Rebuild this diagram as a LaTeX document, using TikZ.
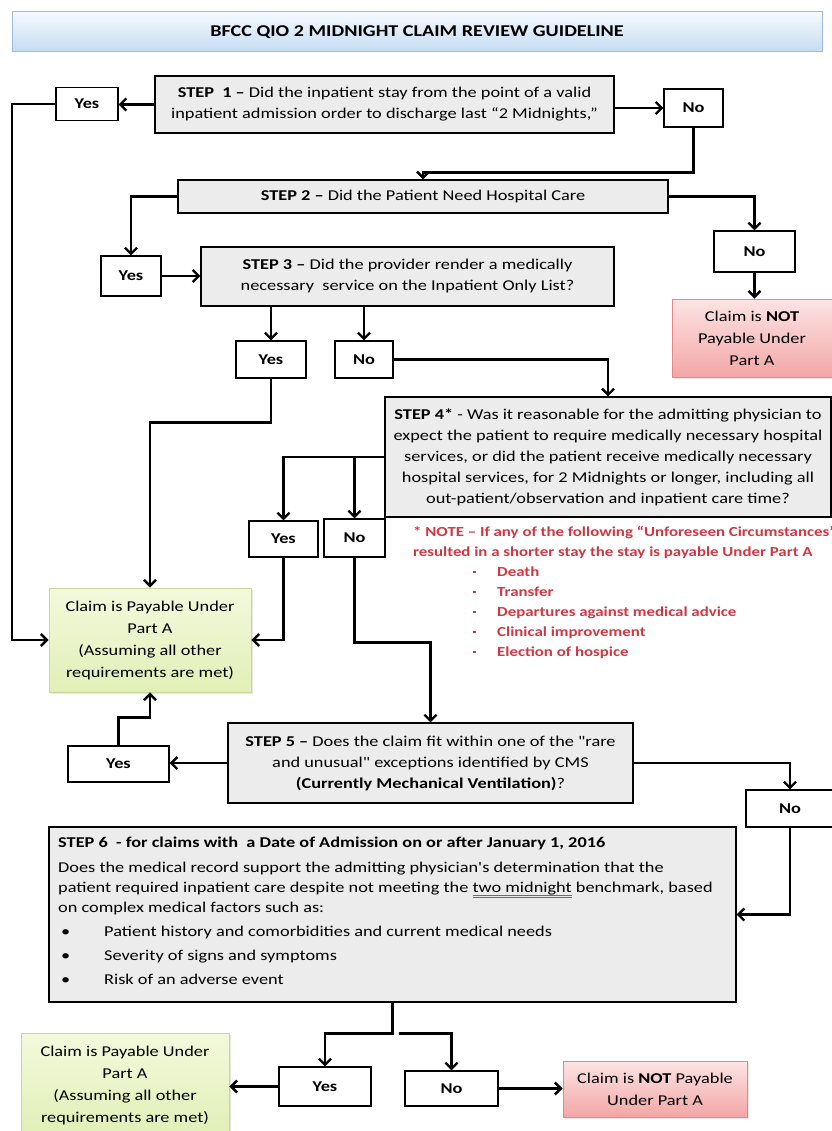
\documentclass[tikz,border=0pt]{standalone}
\usepackage{fontspec}
\setmainfont{Carlito}[FakeStretch=1.22, Ligatures=TeXOff]
\usepackage{xcolor}
\usetikzlibrary{arrows.meta,positioning,calc,shadows}
\definecolor{boxgray}{HTML}{ECECEC}
\definecolor{titletop}{HTML}{F6FAFF}
\definecolor{titlebot}{HTML}{C4DBF2}
\definecolor{titleline}{HTML}{9FBEDF}
\definecolor{paytop}{HTML}{F3F9DC}
\definecolor{paybot}{HTML}{E1EFB6}
\definecolor{payline}{HTML}{C5D99A}
\definecolor{nottop}{HTML}{FDE4E4}
\definecolor{notbot}{HTML}{F3A6A6}
\definecolor{notline}{HTML}{E38787}
\definecolor{notered}{HTML}{CF3843}
\definecolor{ulblue}{HTML}{3F6FD0}
\newcommand{\blueline}[1]{\setbox0=\hbox{#1}\rlap{\color{ulblue}\rule[-3pt]{\wd0}{0.6pt}}\rlap{\color{ulblue}\rule[-5pt]{\wd0}{0.6pt}}\box0\relax}
\newcommand{\notebullet}{\hspace*{60pt}\makebox[24pt][l]{\raisebox{3pt}{\rule{2.6pt}{2.6pt}}}}
\newcommand{\stepbullet}{\makebox[46pt][l]{\hspace{3pt}•}}

\begin{document}
\begin{tikzpicture}[x=1pt, y=-1pt, >={Straight Barb[length=6pt,width=12pt]},
  every node/.style={align=center, inner sep=0pt, font=\fontsize{15}{21}\selectfont},
  stepbox/.style={draw, line width=1.2pt, fill=boxgray},
  ansbox/.style={draw, line width=1.2pt, fill=white, font=\fontsize{15}{21}\selectfont\bfseries},
  paybox/.style={draw=payline, line width=0.8pt, top color=paytop, bottom color=paybot, font=\fontsize{15}{22}\selectfont,
    drop shadow={opacity=0.2, shadow xshift=2pt, shadow yshift=-2pt}},
  notbox/.style={draw=notline, line width=0.8pt, top color=nottop, bottom color=notbot, font=\fontsize{15}{22}\selectfont,
    drop shadow={opacity=0.2, shadow xshift=2pt, shadow yshift=-2pt}},
  flow/.style={->, line width=2.4pt}]
\useasboundingbox[fill=white] (0,0) rectangle (831,1131);
\coordinate (lft) at (12,0);
\node[draw=titleline, line width=1pt, top color=titletop, bottom color=titlebot, minimum width=810pt, minimum height=40pt, font=\fontsize{16.5}{18}\selectfont\bfseries] (title) at (417,32) {BFCC QIO 2 MIDNIGHT CLAIM REVIEW GUIDELINE};
% step 1
\node[stepbox, minimum width=459pt, minimum height=57pt] (s1) at (384.5,104.5) {\textbf{STEP\ \ 1 –} Did the inpatient stay from the point of a valid\\inpatient admission order to discharge last “2 Midnights,”};
\node[ansbox, minimum width=62pt, minimum height=33pt] (yes1) at (87,104) {Yes};
\node[ansbox, minimum width=59pt, minimum height=38pt] (no1) at (693.5,108) {No};
% step 2
\node[stepbox, minimum width=490pt, minimum height=33pt] (s2) at (423,196.5) {\textbf{STEP 2 –} Did the Patient Need Hospital Care};
\node[ansbox, minimum width=60pt, minimum height=40pt] (yes2) at (131,276) {Yes};
\node[ansbox, minimum width=81pt, minimum height=41pt] (no2) at (754.5,251.5) {No};
\node[notbox, minimum width=160pt, minimum height=78pt] (notpay1) at (752,338) {Claim is \textbf{NOT}\\Payable Under\\Part A};
% step 3
\node[stepbox, minimum width=413pt, minimum height=59pt] (s3) at (407.5,276.5) {\textbf{STEP 3 –} Did the provider render a medically\\necessary\ \ service on the Inpatient Only List?};
\node[ansbox, minimum width=70pt, minimum height=37pt] (yes3) at (271,359.5) {Yes};
\node[ansbox, minimum width=58pt, minimum height=37pt] (no3) at (364,359.5) {No};
% step 4
\node[stepbox, minimum width=446pt, minimum height=120pt] (s4) at (608,457) {\textbf{STEP 4*} - Was it reasonable for the admitting physician to\\expect the patient to require medically necessary hospital\\services, or did the patient receive medically necessary\\hospital services, for 2 Midnights or longer, including all\\out-patient/observation and inpatient care time?};
\node[ansbox, minimum width=69pt, minimum height=36pt] (yes4) at (283.5,539) {Yes};
\node[ansbox, minimum width=61pt, minimum height=38pt] (no4) at (354.5,538) {No};
\node[paybox, minimum width=202pt, minimum height=104pt] (pay1) at (150,640) {Claim is Payable Under\\Part A\\(Assuming all other\\requirements are met)};
\node[anchor=north west, align=left, text=notered, font=\fontsize{13.8}{20}\selectfont\bfseries] (note) at (413,526) {* NOTE – If any of the following “Unforeseen Circumstances”\\resulted in a shorter stay the stay is payable Under Part A\\
  \notebullet Death\\
  \notebullet Transfer\\
  \notebullet Departures against medical advice\\
  \notebullet Clinical improvement\\
  \notebullet Election of hospice};
% step 5
\node[stepbox, minimum width=405pt, minimum height=80pt] (s5) at (430.5,763) {\textbf{STEP 5 –} Does the claim fit within one of the "rare\\and unusual" exceptions identified by CMS\\\textbf{(Currently Mechanical Ventilation)}?};
\node[ansbox, minimum width=101pt, minimum height=36pt] (yes5) at (118.5,764) {Yes};
\node[ansbox, minimum width=88pt, minimum height=37pt] (no5) at (790,808.5) {No};
% step 6
\node[stepbox, minimum width=687pt, minimum height=175pt] (s6) at (392.5,914.5) {};
\node[anchor=north west, align=left, font=\fontsize{15}{20}\selectfont] (s6txt) at (58,837) {{\bfseries STEP 6\ \ - for claims with\ \ a Date of Admission on or after January 1, 2016}\\[5pt]
  Does the medical record support the admitting physician's determination that the\\
  patient required inpatient care despite not meeting the \blueline{two midnight} benchmark, based\\
  on complex medical factors such as:\\[4pt]
  \stepbullet Patient history and comorbidities and current medical needs\\[4pt]
  \stepbullet Severity of signs and symptoms\\[4pt]
  \stepbullet Risk of an adverse event};
\node[ansbox, minimum width=92pt, minimum height=39pt] (yes6) at (325,1086.5) {Yes};
\node[ansbox, minimum width=93pt, minimum height=35pt] (no6) at (451.5,1088.5) {No};
\node[paybox, minimum width=208pt, minimum height=104pt] (pay2) at (125,1085) {Claim is Payable Under\\Part A\\(Assuming all other\\requirements are met)};
\node[notbox, minimum width=184pt, minimum height=56pt] (notpay2) at (655,1089) {Claim is \textbf{NOT} Payable\\Under Part A};
\coordinate (fork) at ($(s6.south)+(0,31)$);
% connectors
\draw[flow] (s1.west) -- (s1.west -| yes1.east);
\draw[flow] (s1.east |- no1.west) -- (no1.west);
\draw[flow] (yes1.west) -- (yes1.west -| lft) |- (pay1.west);
\draw[flow] (no1.south) -- ++(0,45) -| (s2.north);
\draw[flow] (s2.west) -| (yes2.north);
\draw[flow] (s2.east) -| (no2.north);
\draw[flow] (no2.south) -- (no2.south |- notpay1.north);
\draw[flow] (yes2.east) -- (yes2.east -| s3.west);
\draw[flow] (yes3.north |- s3.south) -- (yes3.north);
\draw[flow] (no3.north |- s3.south) -- (no3.north);
\draw[flow] (no3.east) -| (s4.north);
\draw[flow] (yes3.south) -- ++(0,44) -| (pay1.north);
\draw[flow] (s4.west) -| (yes4.north);
\draw[flow] (s4.west -| no4.north) -- (no4.north);
\draw[flow] (yes4.south) |- (pay1.east);
\draw[flow] (no4.south) -- ++(0,85) -| (s5.north);
\draw[flow] (s5.west) -- (s5.west -| yes5.east);
\draw[flow] (yes5.north) -- ++(0,-28) -| (pay1.south);
\draw[flow] (s5.east) -| (no5.north);
\draw[flow] (no5.south) |- (s6.east);
\draw[flow] (s6.south) -- (fork) -| (yes6.north);
\draw[flow] ([xshift=6pt]fork) -| (no6.north);
\draw[flow] (yes6.west) -- (yes6.west -| pay2.east);
\draw[flow] (no6.east) -- (no6.east -| notpay2.west);
\end{tikzpicture}
\end{document}
